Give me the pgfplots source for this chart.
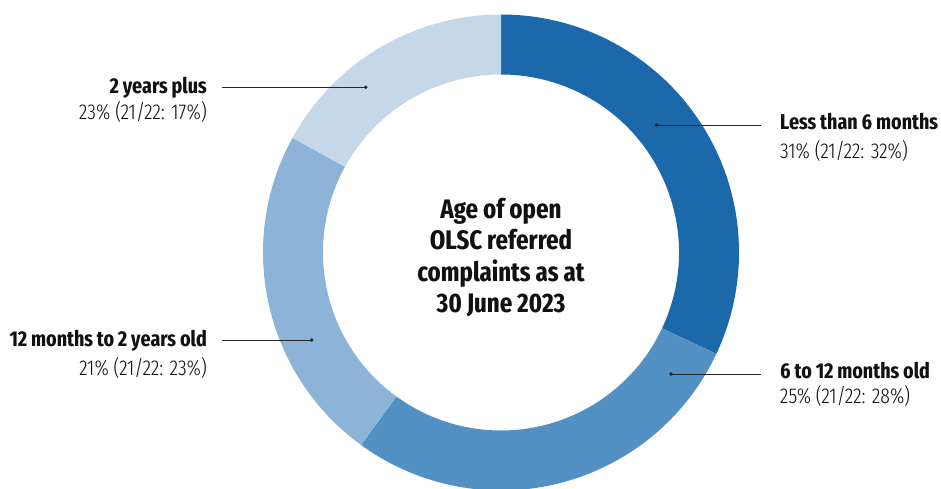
\documentclass[border=0pt]{standalone}
\usepackage{fontspec}
\setmainfont{Fira Sans Extra Condensed}
\newfontfamily\condlight{Fira Sans Extra Condensed Light}
\usepackage{pgfplots}
\pgfplotsset{compat=1.18}
\definecolor{cA}{HTML}{1B68AB}
\definecolor{cB}{HTML}{5390C3}
\definecolor{cC}{HTML}{8DB4D7}
\definecolor{cD}{HTML}{C5D8EA}
\definecolor{txt}{HTML}{111111}
% ring segment from cumulative share #1 to #2 (percent), clockwise from top
\newcommand{\ringseg}[3]{%
 \fill[#3] (axis cs:501,235.5) ++({90-3.6*(#1)}:238pt)
   arc[start angle={90-3.6*(#1)}, end angle={90-3.6*(#2)}, radius=238pt]
   -- ++({90-3.6*(#2)}:-60pt)
   arc[start angle={90-3.6*(#2)}, end angle={90-3.6*(#1)}, radius=178pt] -- cycle;}
\begin{document}
\begin{tikzpicture}
\begin{axis}[at={(0,0)}, anchor=south west, scale only axis,
  width=941pt, height=488pt, xmin=0, xmax=941, ymin=0, ymax=488,
  hide axis, clip=true]
% drawn shares: 32, 28, 23, 17 (cumulative 0,32,60,83,100)
\ringseg{0}{32}{cA}
\ringseg{32}{60}{cB}
\ringseg{60}{83}{cC}
\ringseg{83}{100}{cD}
% leader lines
\addplot[black!85, line width=0.8pt, mark=*, mark size=1.3pt, mark indices={2}] coordinates {(222,400.7) (365.7,400.7)};
\addplot[black!85, line width=0.8pt, mark=*, mark size=1.3pt, mark indices={1}] coordinates {(656.7,363) (760.7,363)};
\addplot[black!85, line width=0.8pt, mark=*, mark size=1.3pt, mark indices={2}] coordinates {(222,148) (311.7,148)};
\addplot[black!85, line width=0.8pt, mark=*, mark size=1.3pt, mark indices={1}] coordinates {(671,114) (760.7,114)};
% labels
\node[anchor=base east, inner sep=0pt, text=txt, font=\fontsize{21.5}{24}\selectfont\bfseries] at (axis cs:207,394.7) {2 years plus};
\node[anchor=base east, inner sep=0pt, text=txt, font=\fontsize{21.5}{24}\selectfont\condlight] at (axis cs:207,368) {23\% (21/22: 17\%)};
\node[anchor=base east, inner sep=0pt, text=txt, font=\fontsize{21.5}{24}\selectfont\bfseries] at (axis cs:207,141.3) {12 months to 2 years old};
\node[anchor=base east, inner sep=0pt, text=txt, font=\fontsize{21.5}{24}\selectfont\condlight] at (axis cs:207,113) {21\% (21/22: 23\%)};
\node[anchor=base west, inner sep=0pt, text=txt, font=\fontsize{21.5}{24}\selectfont\bfseries] at (axis cs:780,358) {Less than 6 months};
\node[anchor=base west, inner sep=0pt, text=txt, font=\fontsize{21.5}{24}\selectfont\condlight] at (axis cs:780,330) {31\% (21/22: 32\%)};
\node[anchor=base west, inner sep=0pt, text=txt, font=\fontsize{21.5}{24}\selectfont\bfseries] at (axis cs:780,110) {6 to 12 months old};
\node[anchor=base west, inner sep=0pt, text=txt, font=\fontsize{21.5}{24}\selectfont\condlight] at (axis cs:780,85) {25\% (21/22: 28\%)};
% centre title
\node[anchor=base, inner sep=0pt, text=txt, font=\fontsize{26.8}{30}\selectfont\bfseries] at (axis cs:501,270) {Age of open};
\node[anchor=base, inner sep=0pt, text=txt, font=\fontsize{26.8}{30}\selectfont\bfseries] at (axis cs:501,238.5) {OLSC referred};
\node[anchor=base, inner sep=0pt, text=txt, font=\fontsize{26.8}{30}\selectfont\bfseries] at (axis cs:501,207) {complaints as at};
\node[anchor=base, inner sep=0pt, text=txt, font=\fontsize{26.8}{30}\selectfont\bfseries] at (axis cs:501,175.5) {30 June 2023};
\end{axis}
\pgfresetboundingbox
\useasboundingbox (0,0) rectangle (941pt,488pt);
\end{tikzpicture}
\end{document}
